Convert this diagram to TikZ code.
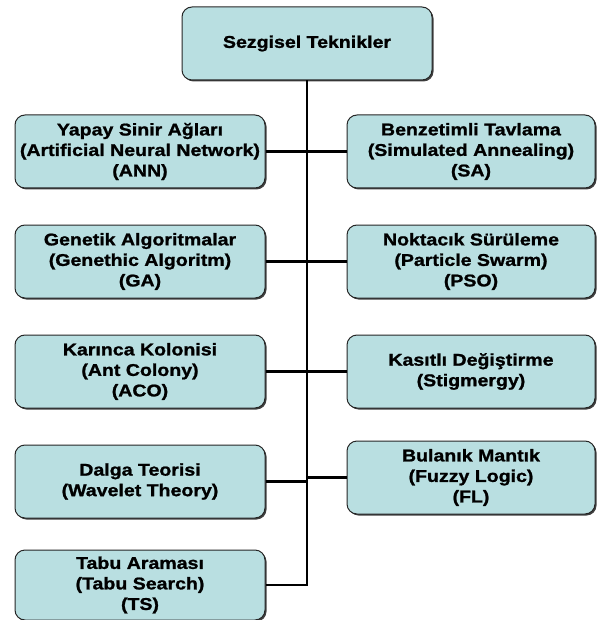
\documentclass[tikz,border=0pt]{standalone}
\usepackage{fontspec}
\newfontfamily\boxfont{Liberation Sans Bold}[FakeStretch=1.15, FakeBold=1.2]
\usetikzlibrary{shadows}
\definecolor{boxfill}{RGB}{185,223,225}
\begin{document}
\begin{tikzpicture}[x=1pt,y=-1pt,
  techbox/.style={draw=black!85, line width=1pt, fill=boxfill,
    rounded corners=10pt, minimum width=250pt, minimum height=73pt,
    inner sep=0pt, align=center,
    font=\boxfont\fontsize{17}{20.5}\selectfont,
    drop shadow={shadow xshift=1.5pt, shadow yshift=-1.5pt, fill=black!75, opacity=1}},
  link/.style={line width=2.4pt, draw=black}]
\useasboundingbox (0,0) rectangle (600,620);

% root of the tree
\node[techbox] (root) at (307,43.5) {Sezgisel Teknikler};

% left column
\node[techbox] (ann) at (140,151.5) {Yapay Sinir Ağları\\(Artificial Neural Network)\\(ANN)};
\node[techbox] (ga)  at (140,261.5) {Genetik Algoritmalar\\(Genethic Algoritm)\\(GA)};
\node[techbox] (aco) at (140,371.5) {Karınca Kolonisi\\(Ant Colony)\\(ACO)};
\node[techbox] (wt)  at (140,481.5) {Dalga Teorisi\\(Wavelet Theory)};
\node[techbox, minimum height=70pt] (ts) at (140,585) {Tabu Araması\\(Tabu Search)\\(TS)};

% right column
\node[techbox, minimum width=248pt] (sa)  at (471,151.5) {Benzetimli Tavlama\\(Simulated Annealing)\\(SA)};
\node[techbox, minimum width=248pt] (pso) at (471,261.5) {Noktacık Sürüleme\\(Particle Swarm)\\(PSO)};
\node[techbox, minimum width=248pt] (stg) at (471,371.5) {Kasıtlı Değiştirme\\(Stigmergy)};
\node[techbox, minimum width=248pt] (fl)  at (471,477.5) {Bulanık Mantık\\(Fuzzy Logic)\\(FL)};

% trunk and branches
\draw[link] (root.south) -- (root.south |- ts.east) -- (ts.east);
\foreach \n in {ann,ga,aco,wt}
  \draw[link] (\n.east) -- (\n.east -| root.south);
\foreach \n in {sa,pso,stg,fl}
  \draw[link] (\n.west) -- (\n.west -| root.south);
\end{tikzpicture}
\end{document}
